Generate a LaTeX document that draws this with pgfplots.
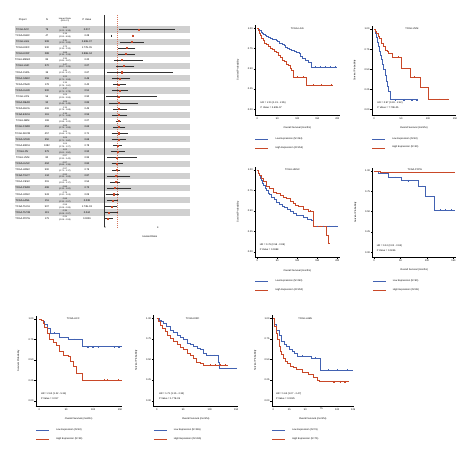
\documentclass[border=0pt]{standalone}
\usepackage{fontspec}
\setmainfont{Liberation Sans}
\usepackage{pgfplots}
\usepackage{pgfplotstable}
\pgfplotsset{compat=1.18}
\definecolor{kmblue}{RGB}{66,98,178}
\definecolor{kmred}{RGB}{201,72,40}
\definecolor{stripe}{RGB}{208,208,208}
\newcommand{\fs}{\fontsize{2.45}{2.9}\selectfont}
\newcommand{\ft}{\fontsize{2.5}{2.9}\selectfont}
\newcommand{\fh}{\fontsize{2.1}{2.45}\selectfont}

\pgfplotstableread{
row hr lo hi
1 2.62 1.22 5.34
3 2.11 1.31 2.95
4 1.73 1.15 2.33
5 1.68 1.15 2.26
6 1.35 0.85 2.87
7 1.47 0.97 2.25
8 1.35 0.33 5.17
9 1.22 0.71 1.94
10 1.15 0.78 1.60
11 1.17 0.71 1.73
12 1.09 0.25 3.94
13 1.09 0.46 2.49
14 1.15 0.78 1.68
15 1.15 0.71 1.66
16 1.09 0.98 1.22
17 1.09 0.76 1.55
18 1.09 0.66 1.73
19 1.09 0.71 1.60
20 1.04 0.78 1.27
21 1.02 0.61 1.50
22 0.97 0.33 2.42
23 0.97 0.66 1.35
24 0.97 0.71 1.17
25 0.92 0.33 1.93
26 0.89 0.53 1.17
27 0.84 0.33 2.00
28 0.76 0.20 1.04
29 0.66 0.33 0.97
30 0.58 0.08 0.95
31 0.35 0.08 0.97
32 0.25 0.08 0.59
}\forestdata

\pgfplotsset{
  km/.style={
    scale only axis, anchor=south west,
    axis x line*=bottom, axis y line*=left,
    ymax=1.04,
    ytick={0,0.25,0.5,0.75,1},
    /pgf/number format/assume math mode=true,
    yticklabel style={/pgf/number format/.cd, fixed, fixed zerofill, precision=2},
    tick label style={font=\fs, inner sep=0.8pt},
    tick style={black, line width=0.3pt},
    major tick length=1.3pt,
    tick align=outside,
    axis line style={line width=0.35pt, -},
    xlabel={Overall Survival (months)},
    ylabel={Survival Probability},
    xlabel style={font=\fs, at={(axis description cs:0.5,-0.145)}, anchor=center},
    ylabel style={font=\fs, at={(axis description cs:-0.2,0.5)}, anchor=center},
    clip=false,
    legend style={at={(axis description cs:0,-0.245)}, anchor=north west, draw=none, fill=none,
      font=\fs, row sep=5pt, inner sep=0pt, nodes={inner sep=0.3pt}},
    legend cell align=left,
    legend image code/.code={\draw[#1] (0pt,0pt) -- (13pt,0pt); \path (19.5pt,0pt);},
  },
  blueline/.style={kmblue, line width=0.55pt, const plot, mark=none},
  redline/.style={kmred, line width=0.55pt, const plot, mark=none},
  bcens/.style={only marks, mark=+, mark size=0.8pt, kmblue, mark options={line width=0.3pt}, forget plot},
  rcens/.style={only marks, mark=+, mark size=0.8pt, kmred, mark options={line width=0.3pt}, forget plot},
}

\newcommand{\frow}[6]{%
  \node[font=\ft, inner sep=0] at (axis cs:-6.2,#1) {#2};
  \node[font=\ft, inner sep=0] at (axis cs:-4.35,#1) {#3};
  \node[font=\fh, inner sep=0, align=center] at (axis cs:-2.98,#1) {#4\\#5};
  \node[font=\ft, inner sep=0] at (axis cs:-1.30,#1) {#6};}

\begin{document}
\begin{tikzpicture}
\useasboundingbox (0pt,0pt) rectangle (474pt,459pt);

% ---------------- Forest plot ----------------
\begin{axis}[at={(104pt,228.8pt)}, anchor=south west, scale only axis, width=86pt, height=215.3pt,
  xmin=0, xmax=6.56, ymin=-1.4, ymax=33.9, y dir=reverse, hide axis, clip=false]
\pgfplotsinvokeforeach{1,3,...,31}{\fill[stripe] (axis cs:-6.8,#1-0.5) rectangle (axis cs:6.56,#1+0.5);}
\addplot[black!80, line width=0.55pt, forget plot] coordinates {(0,-1.4) (0,33.4)};
\addplot[kmred!75, line width=0.35pt, dash pattern=on 1pt off 1pt, forget plot] coordinates {(1,-1.4) (1,33.4)};
\addplot[only marks, mark=square*, mark size=0.55pt, kmred,
  error bars/.cd, x dir=both, x explicit,
  error bar style={line width=0.45pt, black!80},
  error mark options={mark size=0.95pt, line width=0.45pt, black!80}]
  table[x=hr, y=row, x error plus expr=\thisrow{hi}-\thisrow{hr}, x error minus expr=\thisrow{hr}-\thisrow{lo}] {\forestdata};
\addplot[only marks, mark=|, mark size=0.95pt, black!80, mark options={line width=0.45pt}] coordinates {(0.53,2) (2.18,2)};
\addplot[only marks, mark=square*, mark size=0.55pt, kmred] coordinates {(2.18,2)};
% header
\node[font=\ft] at (axis cs:-6.2,-0.6) {Project};
\node[font=\ft] at (axis cs:-4.35,-0.6) {N};
\node[font=\fh, align=center, inner sep=0] at (axis cs:-2.98,-0.6) {Hazard Ratio\\(95\% CI)};
\node[font=\ft] at (axis cs:-1.30,-0.6) {P Value};
\frow{1}{TCGA-ACC}{79}{2.62}{(1.22 - 5.34)}{0.017}
\frow{2}{TCGA-DLBC}{47}{2.18}{(0.53 - 8.96)}{0.28}
\frow{3}{TCGA-LGG}{508}{2.11}{(1.31 - 2.95)}{2.60E-07}
\frow{4}{TCGA-KIRC}{530}{1.73}{(1.15 - 2.33)}{1.77E-05}
\frow{5}{TCGA-KIRP}{288}{1.68}{(1.15 - 2.26)}{2.86E-04}
\frow{6}{TCGA-MESO}{85}{1.35}{(0.85 - 2.87)}{0.20}
\frow{7}{TCGA-LIHC}{370}{1.47}{(0.97 - 2.25)}{0.07}
\frow{8}{TCGA-CHOL}{36}{1.35}{(0.33 - 5.17)}{0.67}
\frow{9}{TCGA-SARC}{259}{1.22}{(0.71 - 1.94)}{0.46}
\frow{10}{TCGA-PAAD}{178}{1.15}{(0.78 - 1.60)}{0.42}
\frow{11}{TCGA-LUAD}{500}{1.17}{(0.71 - 1.73)}{0.51}
\frow{12}{TCGA-UCS}{56}{1.09}{(0.25 - 3.94)}{0.90}
\frow{13}{TCGA-READ}{92}{1.09}{(0.46 - 2.49)}{0.85}
\frow{14}{TCGA-BLCA}{406}{1.15}{(0.78 - 1.68)}{0.45}
\frow{15}{TCGA-ESCA}{161}{1.15}{(0.71 - 1.66)}{0.55}
\frow{16}{TCGA-GBM}{168}{1.09}{(0.98 - 1.22)}{0.07}
\frow{17}{TCGA-COAD}{453}{1.09}{(0.76 - 1.55)}{0.63}
\frow{18}{TCGA-SKCM}{457}{1.09}{(0.66 - 1.73)}{0.71}
\frow{19}{TCGA-STAD}{350}{1.09}{(0.71 - 1.60)}{0.66}
\frow{20}{TCGA-BRCA}{1082}{1.04}{(0.78 - 1.27)}{0.78}
\frow{21}{TCGA-OV}{379}{1.02}{(0.61 - 1.50)}{0.92}
\frow{22}{TCGA-UVM}{80}{0.97}{(0.33 - 2.42)}{0.95}
\frow{23}{TCGA-LUSC}{494}{0.97}{(0.66 - 1.35)}{0.84}
\frow{24}{TCGA-HNSC}{500}{0.97}{(0.71 - 1.17)}{0.76}
\frow{25}{TCGA-TGCT}{134}{0.92}{(0.33 - 1.93)}{0.87}
\frow{26}{TCGA-CESC}{291}{0.89}{(0.53 - 1.17)}{0.54}
\frow{27}{TCGA-PRAD}{498}{0.84}{(0.33 - 2.00)}{0.73}
\frow{28}{TCGA-UCEC}{543}{0.76}{(0.20 - 1.04)}{0.09}
\frow{29}{TCGA-LAML}{151}{0.66}{(0.33 - 0.97)}{0.038}
\frow{30}{TCGA-THCA}{507}{0.58}{(0.08 - 0.95)}{1.73E-03}
\frow{31}{TCGA-THYM}{119}{0.35}{(0.08 - 0.97)}{0.044}
\frow{32}{TCGA-PCPG}{179}{0.25}{(0.08 - 0.59)}{0.0026}
\node[font=\ft] at (axis cs:0.08,33.5) {0};
\node[font=\ft] at (axis cs:4.1,33.5) {4};
\node[font=\ft] at (axis cs:3.5,35.0) {Hazard Ratio};
\end{axis}

% ---------------- Plot 1: LGG ----------------
\begin{axis}[km, at={(255pt,344pt)}, width=84.7pt, height=89.9pt, xmin=-5.75, xmax=206, ymin=-0.07, xtick={0,50,100,150,200}]
\addplot[blueline] coordinates {(0,1.00) (3,0.985) (6,0.97) (9,0.955) (12,0.94) (15,0.925) (19,0.91) (23,0.90) (27,0.89) (32,0.88) (37,0.87) (42,0.86) (47,0.85) (51,0.835) (55,0.82) (59,0.81) (63,0.80) (67,0.785) (71,0.77) (76,0.755) (81,0.74) (86,0.73) (92,0.72) (98,0.705) (104,0.69) (108,0.66) (113,0.63) (120,0.61) (128,0.58) (136,0.52) (200,0.52)};
\addlegendentry{Low Expression (N=254)}
\addplot[redline] coordinates {(0,1.00) (2,0.97) (4,0.94) (7,0.91) (10,0.88) (14,0.85) (18,0.82) (22,0.80) (27,0.78) (32,0.76) (37,0.74) (42,0.72) (47,0.70) (52,0.67) (57,0.64) (62,0.61) (67,0.59) (72,0.56) (77,0.54) (82,0.51) (86,0.48) (90,0.40) (123,0.30) (190,0.30)};
\addlegendentry{High Expression (N=254)}
\addplot[bcens] coordinates {(145,0.52) (158,0.52) (170,0.52) (182,0.52) (195,0.52)};
\addplot[rcens] coordinates {(100,0.40) (115,0.40) (140,0.30) (160,0.30) (185,0.30)};
\node[font=\fs] at (axis cs:100,1.0) {TCGA-LGG};
\node[anchor=west,font=\fs,inner sep=0] at (axis cs:8,0.085) {HR = 2.11 (1.31 - 2.95)};
\node[anchor=west,font=\fs,inner sep=0] at (axis cs:8,0.025) {P Value = 2.60E-07};
\end{axis}

% ---------------- Plot 2: UVM ----------------
\begin{axis}[km, at={(371.7pt,344pt)}, width=84.4pt, height=89.1pt, xmin=-4.3, xmax=152, ymin=-0.07, xtick={0,50,100,150}]
\addplot[blueline] coordinates {(0,1.0) (2,0.95) (4,0.90) (6,0.84) (8,0.78) (10,0.73) (12,0.68) (14,0.62) (16,0.56) (18,0.50) (20,0.42) (22,0.35) (24,0.29) (27,0.22) (30,0.12) (82,0.12)};
\addlegendentry{Low Expression (N=40)}
\addplot[redline] coordinates {(0,1.0) (3,0.97) (5,0.95) (8,0.91) (10,0.88) (14,0.82) (17,0.78) (20,0.74) (24,0.72) (27,0.70) (33,0.65) (51,0.51) (67,0.40) (86,0.27) (101,0.125) (138,0.125)};
\addlegendentry{High Expression (N=40)}
\addplot[bcens] coordinates {(40,0.12) (55,0.12) (70,0.12) (80,0.12)};
\addplot[rcens] coordinates {(45,0.65) (75,0.40) (120,0.125) (135,0.125)};
\node[font=\fs] at (axis cs:70,1.0) {TCGA-UVM};
\node[anchor=west,font=\fs,inner sep=0] at (axis cs:6,0.085) {HR = 0.97 (0.33 - 2.42)};
\node[anchor=west,font=\fs,inner sep=0] at (axis cs:6,0.025) {P Value = 7.70E-05};
\end{axis}

% ---------------- Plot 3: HNSC ----------------
\begin{axis}[km, at={(255pt,201.7pt)}, width=84.7pt, height=90.6pt, xmin=-5.75, xmax=206, ymin=-0.0685, xtick={0,50,100,150,200}]
\addplot[blueline] coordinates {(0,1.0) (2,0.96) (4,0.93) (7,0.90) (10,0.87) (13,0.84) (16,0.81) (20,0.78) (23,0.75) (27,0.72) (31,0.70) (36,0.67) (42,0.64) (48,0.61) (55,0.58) (62,0.56) (68,0.54) (75,0.52) (82,0.49) (90,0.47) (98,0.45) (106,0.44) (115,0.42) (125,0.40) (136,0.38) (140,0.31) (202,0.31)};
\addlegendentry{Low Expression (N=250)}
\addplot[redline] coordinates {(0,1.0) (3,0.96) (6,0.93) (11,0.90) (16,0.86) (23,0.80) (30,0.77) (40,0.73) (48,0.71) (57,0.69) (65,0.67) (73,0.65) (82,0.62) (90,0.59) (96,0.57) (102,0.55) (115,0.52) (127,0.50) (140,0.31) (173,0.20) (178,0.10) (181,0.10)};
\addlegendentry{High Expression (N=250)}
\addplot[bcens] coordinates {(150,0.31) (165,0.31) (180,0.31) (195,0.31)};
\addplot[rcens] coordinates {(132,0.50) (158,0.31)};
\node[font=\fs] at (axis cs:88,1.0) {TCGA-HNSC};
\node[anchor=west,font=\fs,inner sep=0] at (axis cs:6,0.085) {HR = 0.76 (0.58 - 0.99)};
\node[anchor=west,font=\fs,inner sep=0] at (axis cs:6,0.025) {P Value = 0.0388};
\end{axis}

% ---------------- Plot 4: PCPG ----------------
\begin{axis}[km, at={(372.3pt,201.7pt)}, width=83.7pt, height=89.6pt, xmin=-3.2, xmax=154.7, ymin=-0.0615, xtick={0,50,100,150}]
\addplot[blueline] coordinates {(0,1.0) (8,0.97) (27,0.92) (52,0.88) (84,0.81) (96,0.69) (113,0.52) (153,0.52)};
\addlegendentry{Low Expression (N=90)}
\addplot[redline] coordinates {(0,1.0) (5,0.99) (11,0.98) (153,0.98)};
\addlegendentry{High Expression (N=89)}
\addplot[bcens] coordinates {(15,0.97) (40,0.92) (65,0.88) (90,0.81) (125,0.52) (135,0.52) (145,0.52)};
\addplot[rcens] coordinates {(20,0.98) (35,0.98) (50,0.98) (70,0.98) (90,0.98) (110,0.98) (130,0.98) (150,0.98)};
\node[font=\fs] at (axis cs:77,1.01) {TCGA-PCPG};
\node[anchor=west,font=\fs,inner sep=0] at (axis cs:5,0.085) {HR = 0.12 (0.02 - 0.93)};
\node[anchor=west,font=\fs,inner sep=0] at (axis cs:5,0.025) {P Value = 0.0246};
\end{axis}

% ---------------- Plot 5: ACC ----------------
\begin{axis}[km, at={(35.7pt,53pt)}, width=85.9pt, height=90.3pt, xmin=-6.7, xmax=153, ymin=-0.065, xtick={0,50,100,150}]
\addplot[blueline] coordinates {(0,1.0) (4,0.98) (7,0.97) (10,0.93) (14,0.89) (20,0.83) (38,0.78) (54,0.75) (79,0.66) (153,0.66)};
\addlegendentry{Low Expression (N=40)}
\addplot[redline] coordinates {(0,1.0) (4,0.98) (7,0.95) (10,0.90) (14,0.82) (19,0.75) (26,0.72) (32,0.68) (38,0.61) (45,0.56) (54,0.54) (57,0.48) (63,0.42) (69,0.33) (79,0.25) (153,0.25)};
\addlegendentry{High Expression (N=39)}
\addplot[bcens] coordinates {(28,0.83) (65,0.75) (90,0.66) (100,0.66) (110,0.66) (140,0.66) (148,0.66)};
\addplot[rcens] coordinates {(120,0.25) (126,0.25) (146,0.25)};
\node[font=\fs] at (axis cs:63,1.0) {TCGA-ACC};
\node[anchor=west,font=\fs,inner sep=0] at (axis cs:3,0.085) {HR = 2.62 (1.22 - 5.34)};
\node[anchor=west,font=\fs,inner sep=0] at (axis cs:3,0.025) {P Value = 0.017};
\end{axis}

% ---------------- Plot 6: KIRC ----------------
\begin{axis}[km, at={(153.3pt,53pt)}, width=85pt, height=91pt, xmin=-6.4, xmax=154, ymin=-0.064, xtick={0,50,100,150}]
\addplot[blueline] coordinates {(0,1.0) (4,0.98) (8,0.96) (13,0.94) (19,0.90) (25,0.86) (31,0.83) (38,0.80) (44,0.77) (50,0.74) (57,0.70) (63,0.68) (69,0.66) (76,0.64) (82,0.62) (88,0.58) (94,0.55) (116,0.47) (119,0.39) (151,0.39)};
\addlegendentry{Low Expression (N=265)}
\addplot[redline] coordinates {(0,1.0) (3,0.96) (6,0.92) (10,0.88) (16,0.84) (20,0.80) (25,0.76) (31,0.72) (38,0.68) (44,0.65) (50,0.62) (57,0.58) (63,0.55) (69,0.51) (75,0.47) (82,0.45) (88,0.43) (135,0.43)};
\addlegendentry{High Expression (N=265)}
\addplot[bcens] coordinates {(100,0.55) (108,0.55) (130,0.39) (140,0.39) (150,0.39)};
\addplot[rcens] coordinates {(100,0.43) (110,0.43) (120,0.43) (130,0.43)};
\node[font=\fs] at (axis cs:68,1.0) {TCGA-KIRC};
\node[anchor=west,font=\fs,inner sep=0] at (axis cs:4,0.085) {HR = 1.73 (1.15 - 2.33)};
\node[anchor=west,font=\fs,inner sep=0] at (axis cs:4,0.025) {P Value = 1.77E-05};
\end{axis}

% ---------------- Plot 7: LAML ----------------
\begin{axis}[km, at={(271.7pt,53pt)}, width=82.2pt, height=91pt, xmin=-2.5, xmax=126, ymin=-0.064, xtick={0,25,50,75,100,125}]
\addplot[blueline] coordinates {(0,1.0) (2,0.93) (5,0.86) (9,0.79) (13,0.72) (17,0.69) (21,0.66) (25,0.62) (29,0.60) (33,0.57) (37,0.54) (60,0.52) (73,0.49) (74,0.37) (124,0.37)};
\addlegendentry{Low Expression (N=76)}
\addplot[redline] coordinates {(0,1.0) (2,0.90) (4,0.82) (6,0.74) (9,0.66) (11,0.60) (13,0.56) (16,0.51) (18,0.48) (22,0.45) (26,0.42) (31,0.40) (36,0.38) (45,0.35) (55,0.32) (62,0.28) (68,0.25) (72,0.23) (118,0.23)};
\addlegendentry{High Expression (N=75)}
\addplot[bcens] coordinates {(45,0.54) (65,0.52) (85,0.37) (100,0.37) (115,0.37)};
\addplot[rcens] coordinates {(95,0.23) (105,0.23) (112,0.23)};
\node[font=\fs] at (axis cs:50,1.0) {TCGA-LAML};
\node[anchor=west,font=\fs,inner sep=0] at (axis cs:4,0.085) {HR = 1.63 (1.07 - 2.47)};
\node[anchor=west,font=\fs,inner sep=0] at (axis cs:4,0.025) {P Value = 0.0225};
\end{axis}
\end{tikzpicture}
\end{document}
